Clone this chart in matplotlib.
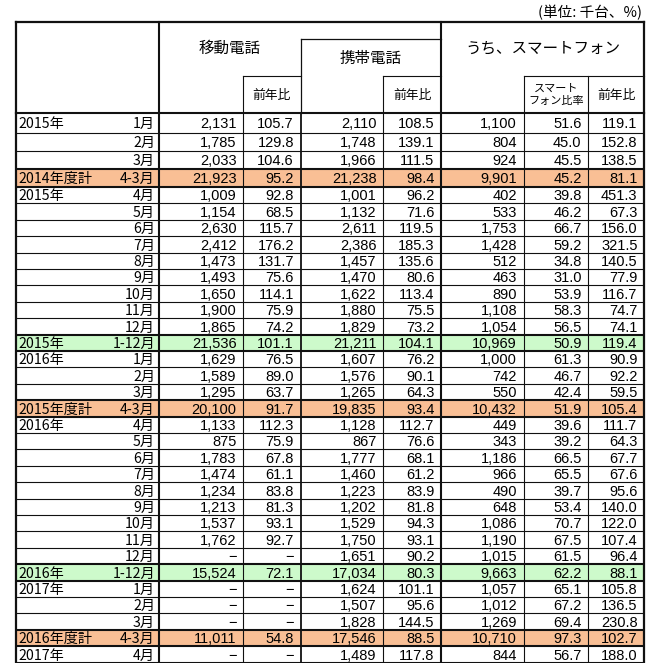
import matplotlib
matplotlib.use("Agg")
import matplotlib.pyplot as plt
from matplotlib.patches import Rectangle

# ---------------- data ----------------
year_labels = ['2015年', '', '', '2014年度計', '2015年', '', '', '', '', '', '', '', '',
               '2015年', '2016年', '', '', '2015年度計', '2016年', '', '', '', '', '', '', '', '',
               '2016年', '2017年', '', '', '2016年度計', '2017年']
month_labels = ['1月', '2月', '3月', '4-3月', '4月', '5月', '6月', '7月', '8月', '9月', '10月', '11月', '12月',
                '1-12月', '1月', '2月', '3月', '4-3月', '4月', '5月', '6月', '7月', '8月', '9月', '10月', '11月', '12月',
                '1-12月', '1月', '2月', '3月', '4-3月', '4月']
row_kind = ['n', 'n', 'n', 'fy', 'n', 'n', 'n', 'n', 'n', 'n', 'n', 'n', 'n',
            'cy', 'n', 'n', 'n', 'fy', 'n', 'n', 'n', 'n', 'n', 'n', 'n', 'n', 'n',
            'cy', 'n', 'n', 'n', 'fy', 'n']

mobile = [2131, 1785, 2033, 21923, 1009, 1154, 2630, 2412, 1473, 1493, 1650, 1900, 1865,
          21536, 1629, 1589, 1295, 20100, 1133, 875, 1783, 1474, 1234, 1213, 1537, 1762, None,
          15524, None, None, None, 11011, None]
mobile_yoy = [105.7, 129.8, 104.6, 95.2, 92.8, 68.5, 115.7, 176.2, 131.7, 75.6, 114.1, 75.9, 74.2,
              101.1, 76.5, 89.0, 63.7, 91.7, 112.3, 75.9, 67.8, 61.1, 83.8, 81.3, 93.1, 92.7, None,
              72.1, None, None, None, 54.8, None]
cell = [2110, 1748, 1966, 21238, 1001, 1132, 2611, 2386, 1457, 1470, 1622, 1880, 1829,
        21211, 1607, 1576, 1265, 19835, 1128, 867, 1777, 1460, 1223, 1202, 1529, 1750, 1651,
        17034, 1624, 1507, 1828, 17546, 1489]
cell_yoy = [108.5, 139.1, 111.5, 98.4, 96.2, 71.6, 119.5, 185.3, 135.6, 80.6, 113.4, 75.5, 73.2,
            104.1, 76.2, 90.1, 64.3, 93.4, 112.7, 76.6, 68.1, 61.2, 83.9, 81.8, 94.3, 93.1, 90.2,
            80.3, 101.1, 95.6, 144.5, 88.5, 117.8]
smart = [1100, 804, 924, 9901, 402, 533, 1753, 1428, 512, 463, 890, 1108, 1054,
         10969, 1000, 742, 550, 10432, 449, 343, 1186, 966, 490, 648, 1086, 1190, 1015,
         9663, 1057, 1012, 1269, 10710, 844]
smart_ratio = [51.6, 45.0, 45.5, 45.2, 39.8, 46.2, 66.7, 59.2, 34.8, 31.0, 53.9, 58.3, 56.5,
               50.9, 61.3, 46.7, 42.4, 51.9, 39.6, 39.2, 66.5, 65.5, 39.7, 53.4, 70.7, 67.5, 61.5,
               62.2, 65.1, 67.2, 69.4, 97.3, 56.7]
smart_yoy = [119.1, 152.8, 138.5, 81.1, 451.3, 67.3, 156.0, 321.5, 140.5, 77.9, 116.7, 74.7, 74.1,
             119.4, 90.9, 92.2, 59.5, 105.4, 111.7, 64.3, 67.7, 67.6, 95.6, 140.0, 122.0, 107.4, 96.4,
             88.1, 105.8, 136.5, 230.8, 102.7, 188.0]

header_main = ['移動電話', '携帯電話', 'うち、スマートフォン']
header_sub = ['前年比', '前年比', 'スマート\nフォン比率', '前年比']
unit_text = '(単位: 千台、%)'

# ---------------- layout ----------------
W, H = 669, 663
fig = plt.figure(figsize=(W / 100, H / 100), dpi=100)
ax = fig.add_axes([0, 0, 1, 1])
ax.set_xlim(0, W)
ax.set_ylim(H, 0)
ax.axis('off')

JP = ['Noto Sans CJK JP', 'DejaVu Sans']
NUM = ['Liberation Sans', 'DejaVu Sans']

xs = [15.5, 159, 243, 300.5, 383, 441, 523.5, 588, 644]
top, sub_top, box_top, hdr_bot = 22, 76, 39, 113
n = len(month_labels)
y_edges = [113, 133, 151, 169, 187]
step = (662.5 - 187) / (n - 4)
for k in range(1, n - 3):
    y_edges.append(187 + k * step)

fills = {'fy': '#F9BF95', 'cy': '#CDFACB'}
for i, kind in enumerate(row_kind):
    if kind in fills:
        ax.add_patch(Rectangle((xs[0], y_edges[i]), xs[-1] - xs[0], y_edges[i + 1] - y_edges[i],
                               facecolor=fills[kind], edgecolor='none', zorder=0))

lc = '#111111'
# horizontal row lines
for i, y in enumerate(y_edges):
    thick = (i == 0) or (i == len(y_edges) - 1)
    if i > 0 and row_kind[i - 1] != 'n':
        thick = True
    if i < n and row_kind[i] != 'n':
        thick = True
    ax.plot([xs[0], xs[-1]], [y, y], color=lc, lw=1.5 if thick else 0.8, zorder=2,
            solid_capstyle='butt')
# top border
ax.plot([xs[0], xs[-1]], [top, top], color=lc, lw=1.6, zorder=2)
# vertical lines in data area
v_w = [1.6, 1.5, 0.8, 1.3, 0.8, 1.5, 0.8, 0.8, 1.6]
for x, w in zip(xs, v_w):
    ax.plot([x, x], [hdr_bot, y_edges[-1]], color=lc, lw=w, zorder=2)
# header verticals
for x, w in [(xs[0], 1.6), (xs[1], 1.5), (xs[5], 1.5), (xs[8], 1.6)]:
    ax.plot([x, x], [top, hdr_bot], color=lc, lw=w, zorder=2)
ax.plot([xs[3], xs[3]], [box_top, hdr_bot], color=lc, lw=0.9, zorder=2)
ax.plot([xs[3], xs[5]], [box_top, box_top], color=lc, lw=0.9, zorder=2)
for xa, xb in [(xs[2], xs[3]), (xs[4], xs[5]), (xs[6], xs[8])]:
    ax.plot([xa, xb], [sub_top, sub_top], color=lc, lw=0.8, zorder=2)
for x in [xs[2], xs[4], xs[6], xs[7]]:
    ax.plot([x, x], [sub_top, hdr_bot], color=lc, lw=0.8, zorder=2)

# header text
ax.text((xs[1] + xs[3]) / 2, 48, header_main[0], ha='center', va='center', fontsize=11.2, family=JP)
ax.text((xs[3] + xs[5]) / 2, 58, header_main[1], ha='center', va='center', fontsize=11.2, family=JP)
ax.text((xs[5] + xs[8]) / 2, 48, header_main[2], ha='center', va='center', fontsize=11.2, family=JP)
sub_pos = [(xs[2], xs[3]), (xs[4], xs[5]), (xs[6], xs[7]), (xs[7], xs[8])]
for (xa, xb), t in zip(sub_pos, header_sub):
    if '\n' in t:
        ax.text((xa + xb) / 2, 95, t, ha='center', va='center', fontsize=8, family=JP,
                linespacing=1.25)
    else:
        ax.text((xa + xb) / 2, 95, t, ha='center', va='center', fontsize=9.2, family=JP)
ax.text(642, 13, unit_text, ha='right', va='center', fontsize=10.5, family=JP)

# body text
def fmt_int(v):
    return '−' if v is None else f'{v:,}'

def fmt_pct(v):
    return '−' if v is None else f'{v:.1f}'

cols = [(mobile, fmt_int, xs[2]), (mobile_yoy, fmt_pct, xs[3]), (cell, fmt_int, xs[4]),
        (cell_yoy, fmt_pct, xs[5]), (smart, fmt_int, xs[6]), (smart_ratio, fmt_pct, xs[7]),
        (smart_yoy, fmt_pct, xs[8])]
for i in range(n):
    yc = (y_edges[i] + y_edges[i + 1]) / 2
    yb = yc + 5.2  # baseline
    if year_labels[i]:
        ax.text(18, yb, year_labels[i], ha='left', va='baseline', fontsize=10.2, family=JP)
    ax.text(xs[1] - 4, yb, month_labels[i], ha='right', va='baseline', fontsize=10.2, family=JP)
    for vals, f, xr in cols:
        ax.text(xr - 6.5, yb, f(vals[i]), ha='right', va='baseline', fontsize=10.5, family=NUM)

fig.savefig('out.png', dpi=100)
